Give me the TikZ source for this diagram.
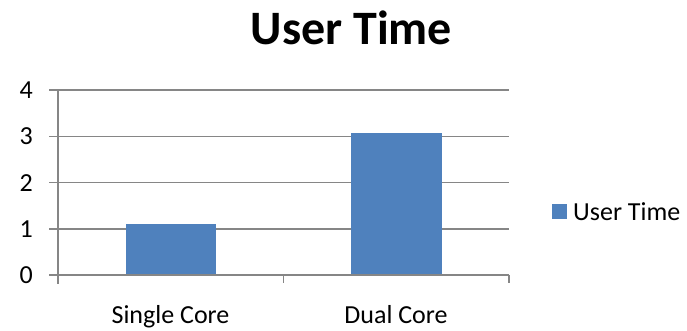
\documentclass[tikz,border=0pt]{standalone}
\usepackage{fontspec}
\setmainfont{Carlito}
\definecolor{gridgray}{HTML}{868686}
\definecolor{barblue}{HTML}{4F81BD}
\begin{document}
\begin{tikzpicture}[x=1pt,y=-1pt,
  grid/.style={draw=gridgray,line width=1.3pt},
  bar/.style={fill=barblue,draw=none},
  lab/.style={font=\fontsize{26}{28}\selectfont,inner sep=0pt},
  ttl/.style={font=\fontsize{48}{50}\selectfont\bfseries,inner sep=0pt}]
\useasboundingbox (0,0) rectangle (687,330);
% gridlines
\foreach \v/\y in {1/229,2/182.75,3/136.5,4/90}{
  \draw[grid] (49,\y) -- (509,\y);
}
% y axis labels
\foreach \v/\y in {0/275,1/229,2/182.75,3/136.5,4/90}{
  \node[lab,anchor=east] (y\v) at (33,\y) {\v};
}
% bars
\fill[bar] (125.7,275) rectangle (215.7,224);
\fill[bar] (351.3,275) rectangle (441.7,132.5);
% axes
\draw[grid] (58,90) -- (58,284);
\draw[grid] (49,275) -- (509,275);
\draw[grid] (283.5,275) -- (283.5,283);
\draw[grid] (509,275) -- (509,283);
% category labels
\node[lab,anchor=base] (c1) at (170.5,323) {Single Core};
\node[lab,anchor=base] (c2) at (396,323) {Dual Core};
% title
\node[ttl,anchor=base] (title) at (351.5,44) {User Time};
% legend
\fill[barblue] (552,204) rectangle (567,219);
\node[lab,anchor=base west] (leg) at (573,220.5) {User Time};
\end{tikzpicture}
\end{document}
